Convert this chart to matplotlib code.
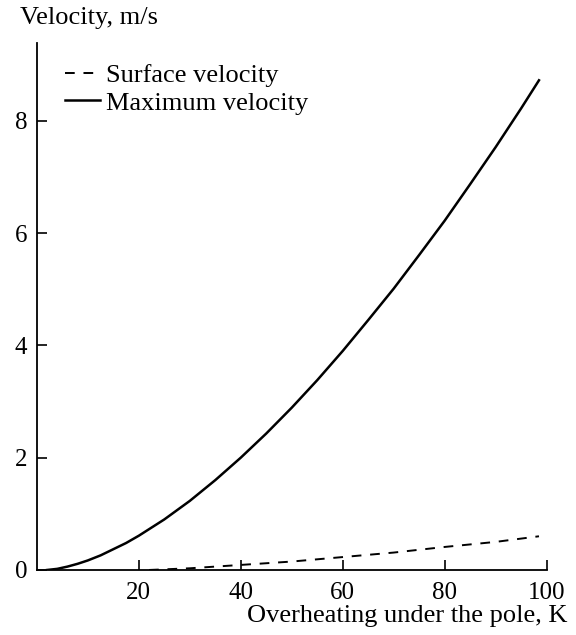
import matplotlib
matplotlib.use("Agg")
import matplotlib.pyplot as plt

plt.rcParams['font.family'] = ['Liberation Serif', 'DejaVu Serif']

# Maximum velocity (solid)
x_max = [2, 4, 6, 8, 10, 12.5, 15, 17.5, 20, 25, 30, 35, 40, 45, 50, 55, 60, 65, 70, 75,
         80, 85, 90, 95, 98.5]
v_max = [0.0, 0.02, 0.06, 0.11, 0.17, 0.26, 0.37, 0.48, 0.61, 0.90, 1.23, 1.60, 2.00,
         2.43, 2.89, 3.38, 3.90, 4.45, 5.01, 5.61, 6.22, 6.87, 7.53, 8.22, 8.72]

# Surface velocity (dashed)
x_surf = [22, 30, 40, 50, 60, 70, 80, 90, 98.5]
v_surf = [0.0, 0.03, 0.09, 0.15, 0.23, 0.31, 0.41, 0.50, 0.60]

x_ticks = [20, 40, 60, 80, 100]
y_ticks = [0, 2, 4, 6, 8]

fig = plt.figure(figsize=(5.76, 6.35), dpi=100)
ax = fig.add_axes([0.064, 0.1024, 0.885, 0.8304])

ax.plot(x_surf, v_surf, color='black', lw=1.4, linestyle=(0, (5, 4.5)), label='Surface velocity')
ax.plot(x_max, v_max, color='black', lw=1.8, label='Maximum velocity')

ax.set_xlim(0, 100)
ax.set_ylim(0, 9.39)
ax.set_xticks(x_ticks)
ax.set_yticks(y_ticks)
ax.tick_params(direction='in', length=7, width=1.2, labelsize=18, pad=9)
ax.tick_params(axis='y', pad=7)

for s in ['top', 'right']:
    ax.spines[s].set_visible(False)
for s in ['left', 'bottom']:
    ax.spines[s].set_linewidth(1.3)

fig.text(0.035, 0.972, 'Velocity, m/s', fontsize=19, ha='left', va='center')
fig.text(0.985, 0.03, 'Overheating under the pole, K', fontsize=19, ha='right', va='center')

leg = ax.legend(loc='upper left', bbox_to_anchor=(0.035, 0.98), frameon=False,
                fontsize=19, handlelength=1.3, handletextpad=0.25, labelspacing=0.15,
                borderaxespad=0)

fig.savefig('out.png', dpi=100, facecolor='white')
